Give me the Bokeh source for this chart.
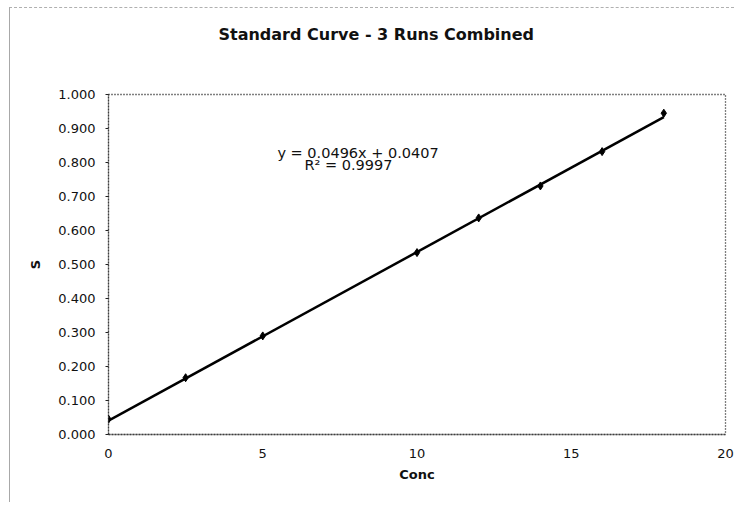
from bokeh.plotting import figure
from bokeh.models import Range1d, FixedTicker, NumeralTickFormatter, Label, Title
from bokeh.embed import file_html
from bokeh.resources import INLINE

# ---- data ----
conc = [0, 2.5, 5, 10, 12, 14, 16, 18]
signal = [0.045, 0.167, 0.290, 0.535, 0.637, 0.731, 0.832, 0.945]
slope = 0.0496
intercept = 0.0407
r_squared = 0.9997
x_ticks = [0, 5, 10, 15, 20]
y_ticks = [0.0, 0.1, 0.2, 0.3, 0.4, 0.5, 0.6, 0.7, 0.8, 0.9, 1.0]
title_text = "Standard Curve - 3 Runs Combined"
x_label = "Conc"
y_label = "S"

FONT = "DejaVu Sans"
TXT = "#111111"
DOT = "1 2"
DOTC = "#000000"

p = figure(width=725, height=495, output_backend="svg", toolbar_location=None,
           x_range=Range1d(0, 20), y_range=Range1d(0, 1), title=None,
           min_border_left=98, min_border_right=10,
           min_border_top=86, min_border_bottom=69)
p.styles = {"margin-left": "9px", "margin-top": "7px",
            "border-left": "1px solid #a8a8a8", "border-top": "1px dashed #b0b0b0"}

p.xgrid.visible = False
p.ygrid.visible = False
p.outline_line_color = DOTC
p.outline_line_dash = DOT
p.outline_line_width = 1.3

# chart title (padding order: left, right, top, bottom)
p.add_layout(Title(text=title_text, align="left", offset=110,
                   text_font=FONT, text_font_size="16px", text_font_style="bold",
                   text_color=TXT, standoff=0, padding=(0, 0, 0, 51)), "above")

# x axis
xa = p.xaxis[0]
xa.ticker = FixedTicker(ticks=x_ticks)
xa.major_tick_out = 0
xa.major_tick_in = 0
xa.minor_tick_out = 0
xa.minor_tick_in = 0
xa.axis_line_color = DOTC
xa.axis_line_dash = DOT
xa.axis_line_width = 1.3
xa.major_label_standoff = 14
xa.major_label_text_font = FONT
xa.major_label_text_font_size = "13px"
xa.major_label_text_color = TXT
xa.axis_label = x_label
xa.axis_label_text_font = FONT
xa.axis_label_text_font_size = "13px"
xa.axis_label_text_font_style = "bold"
xa.axis_label_text_color = TXT
xa.axis_label_standoff = 6

# y axis
ya = p.yaxis[0]
ya.ticker = FixedTicker(ticks=y_ticks)
ya.formatter = NumeralTickFormatter(format="0.000")
ya.major_tick_out = 3
ya.major_tick_in = 0
ya.minor_tick_out = 0
ya.minor_tick_in = 0
ya.major_tick_line_color = "#222222"
ya.axis_line_color = DOTC
ya.axis_line_dash = DOT
ya.axis_line_width = 1.3
ya.major_label_standoff = 10
ya.major_label_text_font = FONT
ya.major_label_text_font_size = "13px"
ya.major_label_text_color = TXT
ya.axis_label = y_label
ya.axis_label_text_font = FONT
ya.axis_label_text_font_size = "13px"
ya.axis_label_text_font_style = "bold"
ya.axis_label_text_color = TXT
ya.axis_label_standoff = 12

# trendline from the fitted coefficients
x_fit = [min(conc), max(conc)]
y_fit = [slope * x + intercept for x in x_fit]
p.line(x_fit, y_fit, line_color="#000000", line_width=2.5)

# data points
p.scatter(conc, signal, marker="diamond", size=8, fill_color="#000000",
          line_color="#000000")

# equation labels
p.add_layout(Label(x=8.09, y=0.829, text=f"y = {slope}x + {intercept}",
                   text_align="center", text_baseline="middle",
                   text_font=FONT, text_font_size="14.5px", text_color=TXT))
p.add_layout(Label(x=7.78, y=0.792, text=f"R² = {r_squared}",
                   text_align="center", text_baseline="middle",
                   text_font=FONT, text_font_size="14.5px", text_color=TXT))

open("out.html", "w").write(file_html(p, INLINE))
